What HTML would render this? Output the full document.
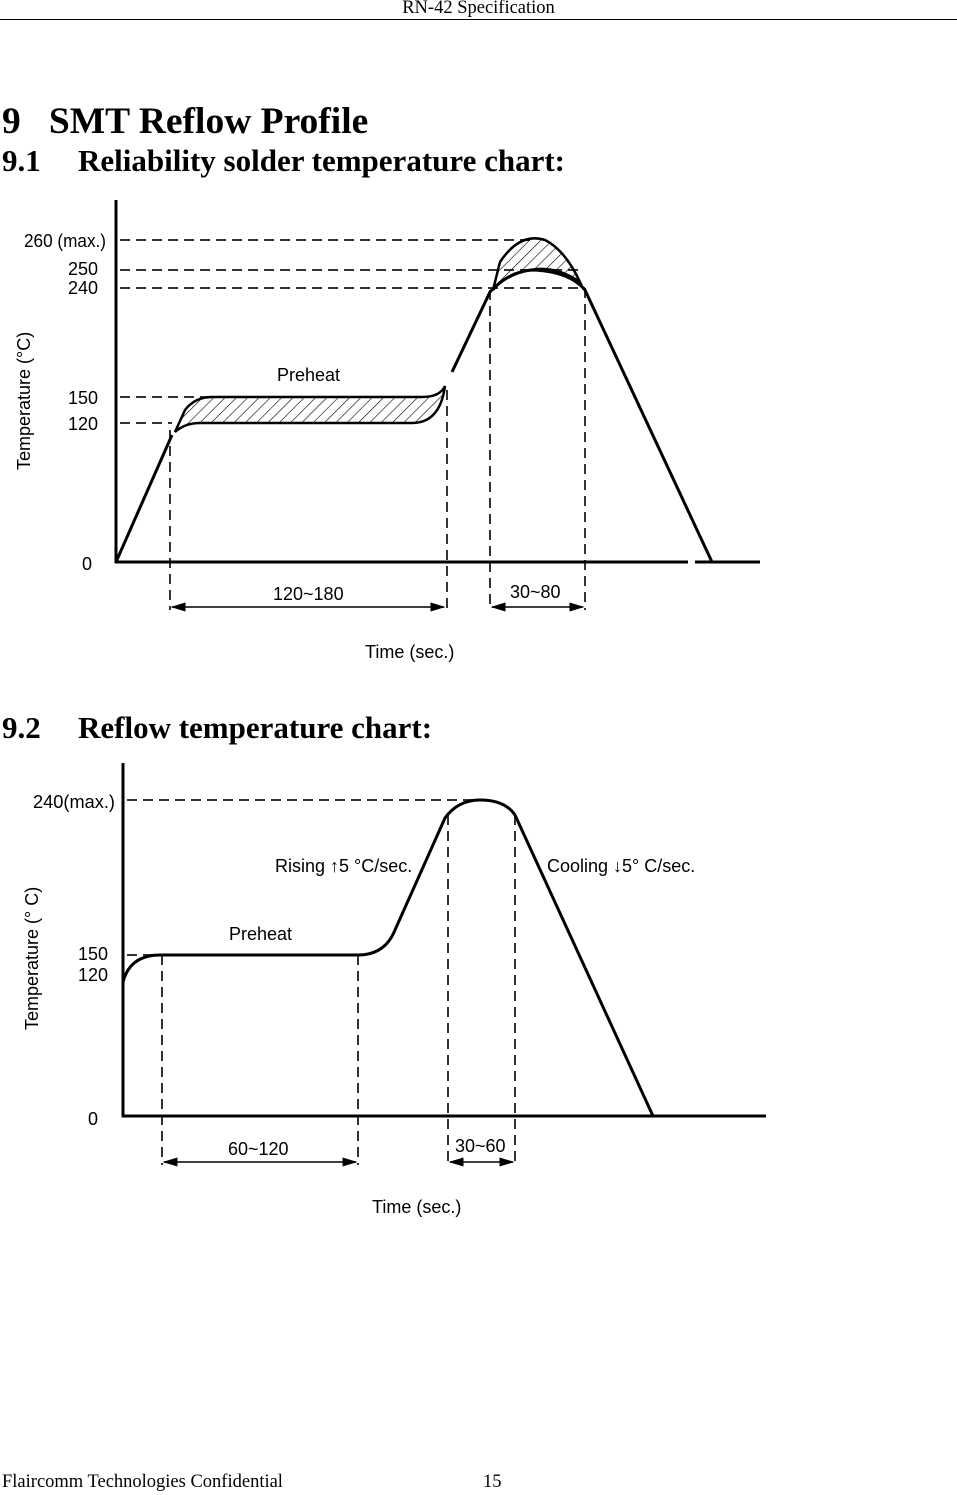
<!DOCTYPE html>
<html><head><meta charset="utf-8"><style>
body{margin:0;width:957px;height:1495px;background:#fff;position:relative;font-family:"Liberation Serif",serif;overflow:hidden}
.t{position:absolute;white-space:nowrap;color:#000}
svg{position:absolute;left:0;top:0}
</style></head><body>
<div class="t" style="left:0;width:957px;text-align:center;top:-2px;font-size:18.5px">RN-42 Specification</div>
<div style="position:absolute;left:0;top:19px;width:957px;border-top:1px solid #000"></div>
<div class="t" style="left:2px;top:100px;font-size:37.5px;font-weight:bold">9&nbsp;&nbsp;&nbsp;SMT Reflow Profile</div>
<div class="t" style="left:2px;top:143px;font-size:31px;font-weight:bold">9.1</div>
<div class="t" style="left:78px;top:143px;font-size:31px;font-weight:bold">Reliability solder temperature chart:</div>
<div class="t" style="left:2px;top:710px;font-size:31px;font-weight:bold">9.2</div>
<div class="t" style="left:78px;top:710px;font-size:31px;font-weight:bold">Reflow temperature chart:</div>
<div class="t" style="left:2px;top:1472px;font-size:18.5px">Flaircomm Technologies Confidential</div>
<div class="t" style="left:483px;top:1472px;font-size:18.5px">15</div>
<svg width="957" height="1495" font-family="Liberation Sans, sans-serif">
<defs><pattern id="h" width="8" height="8" patternUnits="userSpaceOnUse" patternTransform="rotate(45)"><line x1="0" y1="0" x2="0" y2="8" stroke="#000" stroke-width="1.2"/></pattern>
<marker id="a" markerWidth="10" markerHeight="6" refX="9" refY="3" orient="auto-start-reverse"><path d="M0,0L10,3L0,6z"/></marker></defs>
<g stroke="#333" stroke-width="2" stroke-dasharray="10,6" fill="none">
<line x1="120" y1="240" x2="530" y2="240"/><line x1="120" y1="270" x2="580" y2="270"/><line x1="120" y1="288" x2="585" y2="288"/>
<line x1="120" y1="397" x2="210" y2="397"/><line x1="120" y1="423" x2="172" y2="423"/>
<line x1="170" y1="430" x2="170" y2="610"/><line x1="447" y1="390" x2="447" y2="610"/>
<line x1="490" y1="290" x2="490" y2="610"/><line x1="585" y1="288" x2="585" y2="610"/>
<line x1="127" y1="800" x2="480" y2="800"/><line x1="127" y1="955" x2="160" y2="955"/>
<line x1="162" y1="955" x2="162" y2="1165"/><line x1="358" y1="955" x2="358" y2="1165"/>
<line x1="448" y1="815" x2="448" y2="1165"/><line x1="515" y1="815" x2="515" y2="1165"/>
</g>
<path d="M185,410 Q195,397 212,397 L422,397 Q440,397 445,386 Q440,423 412,423 L200,423 Q185,423 175,432 Z" fill="url(#h)" stroke="#000" stroke-width="2.5"/>
<path d="M500,262 Q520,232 545,240 Q565,250 580,282 Q555,265 530,270 Q505,275 493,290 Z" fill="url(#h)" stroke="#000" stroke-width="2.5"/>
<g stroke="#000" stroke-width="3" fill="none">
<line x1="116" y1="200" x2="116" y2="563"/><line x1="115" y1="562" x2="688" y2="562"/><line x1="695" y1="562" x2="760" y2="562"/>
<path d="M116,562 L172,435"/>
<path d="M452,372 L490,292 Q510,270 535,270 Q570,272 585,290 L712,562"/>
<line x1="123" y1="763" x2="123" y2="1117"/><line x1="122" y1="1116" x2="766" y2="1116"/>
<path d="M123,982 Q130,955 160,955 L358,955 Q385,955 395,930 L445,818 Q458,800 480,800 Q505,800 515,815 L653,1116"/>
</g>
<g stroke="#000" stroke-width="1.5">
<line x1="172" y1="607" x2="444" y2="607" marker-start="url(#a)" marker-end="url(#a)"/>
<line x1="492" y1="607" x2="583" y2="607" marker-start="url(#a)" marker-end="url(#a)"/>
<line x1="164" y1="1162" x2="356" y2="1162" marker-start="url(#a)" marker-end="url(#a)"/>
<line x1="450" y1="1162" x2="513" y2="1162" marker-start="url(#a)" marker-end="url(#a)"/>
</g>
<g font-size="18" fill="#000">
<text x="24" y="247" textLength="82" lengthAdjust="spacingAndGlyphs">260 (max.)</text>
<text x="68" y="275">250</text><text x="68" y="294">240</text>
<text x="68" y="404">150</text><text x="68" y="430">120</text><text x="82" y="570">0</text>
<text x="277" y="381">Preheat</text><text x="273" y="600">120~180</text><text x="510" y="598">30~80</text>
<text x="365" y="658">Time (sec.)</text>
<text transform="translate(30,470) rotate(-90)">Temperature (°C)</text>
<text x="33" y="808" textLength="82" lengthAdjust="spacingAndGlyphs">240(max.)</text>
<text x="78" y="960">150</text><text x="78" y="981">120</text><text x="88" y="1125">0</text>
<text x="229" y="940">Preheat</text><text x="228" y="1155">60~120</text><text x="455" y="1152">30~60</text>
<text x="275" y="872">Rising ↑5 °C/sec.</text><text x="547" y="872">Cooling ↓5° C/sec.</text>
<text x="372" y="1213">Time (sec.)</text>
<text transform="translate(38,1030) rotate(-90)">Temperature (° C)</text>
</g>
</svg>
</body></html>
